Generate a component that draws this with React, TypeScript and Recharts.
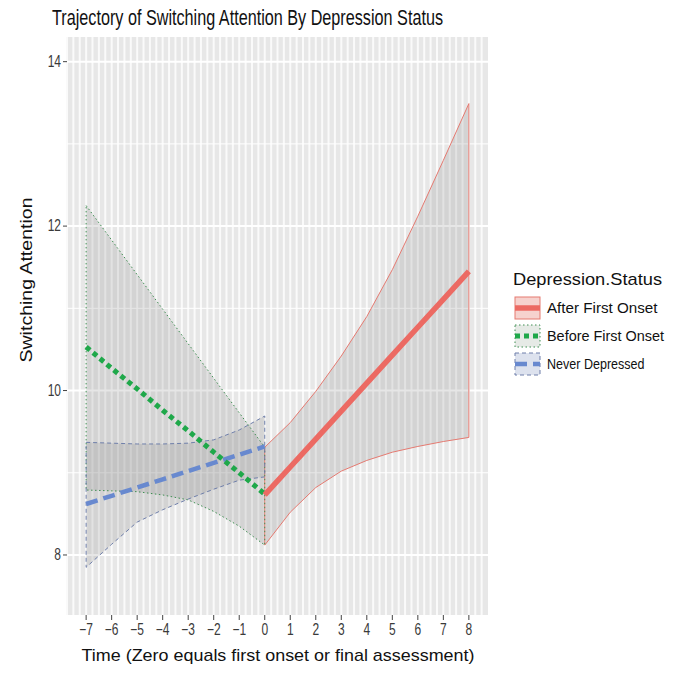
import React from "react";
import { ComposedChart, Area, Line, XAxis, YAxis, CartesianGrid, Legend } from "recharts";

// time points per group
const timeBefore = [-7, -6, -5, -4, -3, -2, -1, 0];
const timeNever = [-7, -6, -5, -4, -3, -2, -1, 0];
const timeAfter = [0, 1, 2, 3, 4, 5, 6, 7, 8];

// Before First Onset
const beforeFit = [10.53, 10.27, 10.02, 9.76, 9.51, 9.25, 9.0, 8.74];
const beforeUpper = [12.25, 11.83, 11.41, 10.99, 10.57, 10.15, 9.73, 9.31];
const beforeLower = [8.79, 8.78, 8.77, 8.73, 8.67, 8.53, 8.35, 8.12];

// Never Depressed
const neverFit = [8.62, 8.72, 8.82, 8.92, 9.02, 9.12, 9.22, 9.32];
const neverUpper = [9.37, 9.36, 9.35, 9.35, 9.36, 9.4, 9.52, 9.69];
const neverLower = [7.85, 8.13, 8.4, 8.55, 8.68, 8.8, 8.91, 8.95];

// After First Onset
const afterFit = [8.73, 9.07, 9.41, 9.75, 10.09, 10.43, 10.77, 11.11, 11.45];
const afterUpper = [9.31, 9.61, 9.99, 10.42, 10.9, 11.47, 12.12, 12.8, 13.49];
const afterLower = [8.12, 8.52, 8.82, 9.02, 9.15, 9.25, 9.32, 9.38, 9.43];

const xTicks = [-7, -6, -5, -4, -3, -2, -1, 0, 1, 2, 3, 4, 5, 6, 7, 8];
const yTicks = [8, 10, 12, 14];
const yMinor = [9, 11, 13];
// dense vertical grid of the panel (every quarter unit)
const xGrid = Array.from({ length: 66 }, (_, i) => -7.75 + i * 0.25);

const FONT = "'Liberation Sans', Arial, Helvetica, sans-serif";

const toRows = (t: number[], fit: number[], lo: number[], hi: number[]) =>
  t.map((v, i) => ({ t: v, fit: fit[i], band: [lo[i], hi[i]] }));

// ribbon outline: upper forwards, lower backwards, closed
const toOutline = (t: number[], lo: number[], hi: number[]) => {
  const up = t.map((v, i) => ({ t: v, v: hi[i] }));
  const down = t.map((v, i) => ({ t: v, v: lo[i] })).reverse();
  return [...up, ...down, up[0]];
};

const groups = [
  {
    name: "After First Onset",
    rows: toRows(timeAfter, afterFit, afterLower, afterUpper),
    outline: toOutline(timeAfter, afterLower, afterUpper),
    color: "#EC6A63",
    edge: "#E57A71",
    dash: undefined as string | undefined,
    edgeDash: undefined as string | undefined,
    width: 5.5,
    keyFill: "#F6D2CE",
  },
  {
    name: "Before First Onset",
    rows: toRows(timeBefore, beforeFit, beforeLower, beforeUpper),
    outline: toOutline(timeBefore, beforeLower, beforeUpper),
    color: "#1FA84A",
    edge: "#3F8E52",
    dash: "5 4",
    edgeDash: "1.5 2.5",
    width: 5,
    keyFill: "#E6EAE6",
  },
  {
    name: "Never Depressed",
    rows: toRows(timeNever, neverFit, neverLower, neverUpper),
    outline: toOutline(timeNever, neverLower, neverUpper),
    color: "#6889CF",
    edge: "#6F7FAA",
    dash: "12 6",
    edgeDash: "4 3",
    width: 4.5,
    keyFill: "#DDE2EE",
  },
];

const XTick = (props: any) => {
  const { x, y, payload } = props;
  const label = payload.value < 0 ? `\u2212${Math.abs(payload.value)}` : `${payload.value}`;
  return (
    <text
      transform={`translate(${x},${y + 13}) scale(0.75,1)`}
      textAnchor="middle"
      fontFamily={FONT}
      fontSize={16}
      fill="#3a3a3a"
    >
      {label}
    </text>
  );
};

const YTick = (props: any) => {
  const { x, y, payload } = props;
  return (
    <text
      transform={`translate(${x},${y + 5}) scale(0.75,1)`}
      textAnchor="end"
      fontFamily={FONT}
      fontSize={16}
      fill="#3a3a3a"
    >
      {payload.value}
    </text>
  );
};

const LegendBox = () => (
  <svg width={180} height={120} style={{ display: "block" }}>
    <text x={0} y={19} fontFamily={FONT} fontSize={17} fill="#111" textLength={149} lengthAdjust="spacingAndGlyphs">
      Depression.Status
    </text>
    {groups.map((g, i) => {
      const top = 30 + i * 28;
      return (
        <g key={g.name}>
          <rect x={1} y={top} width={27} height={24} fill="#fff" />
          <rect
            x={2}
            y={top + 1}
            width={25}
            height={22}
            fill={g.keyFill}
            stroke={g.edge}
            strokeWidth={1}
            strokeDasharray={g.edgeDash}
          />
          <line x1={2} x2={27} y1={top + 12} y2={top + 12} stroke={g.color} strokeWidth={g.width} strokeDasharray={g.dash} />
          <text
            x={34}
            y={top + 17}
            fontFamily={FONT}
            fontSize={14}
            fill="#111"
            textLength={g.name.length * 6.5}
            lengthAdjust="spacingAndGlyphs"
          >
            {g.name}
          </text>
        </g>
      );
    })}
  </svg>
);

export default function App() {
  return (
    <div style={{ position: "absolute", left: 0, top: 0, width: 685, height: 673, background: "#fff" }}>
      <ComposedChart width={685} height={673} margin={{ top: 37, right: 197, bottom: 18, left: 27 }}>
        <CartesianGrid fill="#E7E7E7" horizontal={false} verticalValues={xGrid} stroke="#FAFAFA" strokeWidth={2} />
        <CartesianGrid vertical={false} horizontalValues={yMinor} stroke="#FFFFFF" strokeWidth={1} />
        <CartesianGrid vertical={false} horizontalValues={yTicks} stroke="#FFFFFF" strokeWidth={2} />
        <XAxis
          type="number"
          dataKey="t"
          domain={[-7.75, 8.75]}
          allowDataOverflow
          ticks={xTicks}
          interval={0}
          axisLine={false}
          tickLine={{ stroke: "#444" }}
          tickSize={5}
          height={40}
          tick={<XTick />}
        />
        <YAxis
          type="number"
          domain={[7.27, 14.3]}
          allowDataOverflow
          ticks={yTicks}
          axisLine={false}
          tickLine={{ stroke: "#444" }}
          tickSize={4}
          width={40}
          tick={<YTick />}
        />
        {groups.map((g) => (
          <Area
            key={`band-${g.name}`}
            data={g.rows}
            dataKey="band"
            type="linear"
            fill="#8C8C8C"
            fillOpacity={0.22}
            stroke="none"
            isAnimationActive={false}
            legendType="none"
          />
        ))}
        {groups.map((g) => (
          <Line
            key={`edge-${g.name}`}
            data={g.outline}
            dataKey="v"
            type="linear"
            stroke={g.edge}
            strokeWidth={1}
            strokeDasharray={g.edgeDash}
            dot={false}
            activeDot={false}
            isAnimationActive={false}
            legendType="none"
          />
        ))}
        {[groups[2], groups[1], groups[0]].map((g) => (
          <Line
            key={`fit-${g.name}`}
            data={g.rows}
            dataKey="fit"
            name={g.name}
            type="linear"
            stroke={g.color}
            strokeWidth={g.width}
            strokeDasharray={g.dash}
            dot={false}
            activeDot={false}
            isAnimationActive={false}
          />
        ))}
        <Legend
          layout="vertical"
          align="center"
          verticalAlign="middle"
          content={() => <LegendBox />}
          wrapperStyle={{ left: 513, top: 266, width: 180 }}
        />
      </ComposedChart>
      <svg width={685} height={673} style={{ position: "absolute", left: 0, top: 0, pointerEvents: "none" }}>
        <text x={52} y={25} fontFamily={FONT} fontSize={22} fill="#111" textLength={391} lengthAdjust="spacingAndGlyphs">
          Trajectory of Switching Attention By Depression Status
        </text>
        <text
          x={278}
          y={661}
          textAnchor="middle"
          fontFamily={FONT}
          fontSize={17}
          fill="#111"
          textLength={393}
          lengthAdjust="spacingAndGlyphs"
        >
          Time (Zero equals first onset or final assessment)
        </text>
        <text
          transform="translate(32,280) rotate(-90)"
          textAnchor="middle"
          fontFamily={FONT}
          fontSize={17}
          fill="#111"
          textLength={165}
          lengthAdjust="spacingAndGlyphs"
        >
          Switching Attention
        </text>
      </svg>
    </div>
  );
}
